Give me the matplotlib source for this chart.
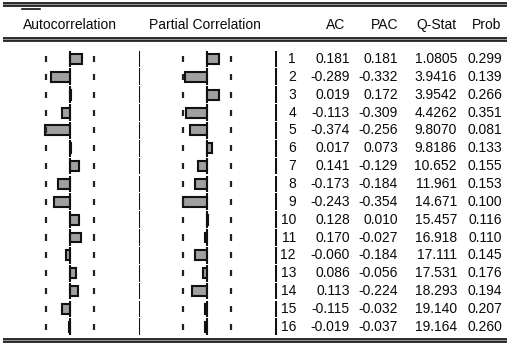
import numpy as np
import matplotlib
matplotlib.use("Agg")
import matplotlib.pyplot as plt
from matplotlib.patches import Rectangle

# ---- data ----
lags = np.arange(1, 17)
ac = [0.181, -0.289, 0.019, -0.113, -0.374, 0.017, 0.141, -0.173, -0.243, 0.128,
      0.170, -0.060, 0.086, 0.113, -0.115, -0.019]
pac = [0.181, -0.332, 0.172, -0.309, -0.256, 0.073, -0.129, -0.184, -0.354, 0.010,
       -0.027, -0.184, -0.056, -0.224, -0.032, -0.037]
ac_txt = ["0.181", "-0.289", "0.019", "-0.113", "-0.374", "0.017", "0.141", "-0.173",
          "-0.243", "0.128", "0.170", "-0.060", "0.086", "0.113", "-0.115", "-0.019"]
pac_txt = ["0.181", "-0.332", "0.172", "-0.309", "-0.256", "0.073", "-0.129", "-0.184",
           "-0.354", "0.010", "-0.027", "-0.184", "-0.056", "-0.224", "-0.032", "-0.037"]
qstat = ["1.0805", "3.9416", "3.9542", "4.4262", "9.8070", "9.8186", "10.652", "11.961",
         "14.671", "15.457", "16.918", "17.111", "17.531", "18.293", "19.140", "19.164"]
prob = ["0.299", "0.139", "0.266", "0.351", "0.081", "0.133", "0.155", "0.153",
        "0.100", "0.116", "0.110", "0.145", "0.176", "0.194", "0.207", "0.260"]
headers = ["Autocorrelation", "Partial Correlation", "AC", "PAC", "Q-Stat", "Prob"]
bound = 0.355

W, H = 510, 346
plt.rcParams['font.family'] = ['Liberation Sans', 'DejaVu Sans']
fig = plt.figure(figsize=(W / 100, H / 100), dpi=100)

FS = 10
TXT = '#0a0a0a'
BAR = '#a0a0a0'
LINE = '#111111'

# background axes in pixel coordinates
bg = fig.add_axes([0, 0, 1, 1])
bg.set_xlim(0, W)
bg.set_ylim(H, 0)
bg.axis('off')

def double_rule(y):
    bg.add_patch(Rectangle((3, y), 504, 3.6, facecolor='#999999', edgecolor='none'))
    bg.plot([3, 507], [y, y], color=LINE, lw=1.2, solid_capstyle='butt')
    bg.plot([3, 507], [y + 3.6, y + 3.6], color=LINE, lw=1.2, solid_capstyle='butt')

double_rule(2.5)
double_rule(37.5)
double_rule(338.5)
bg.plot([22, 40], [9, 9], color=LINE, lw=1.2)

bg.text(23, 25, headers[0], fontsize=FS, color=TXT, ha='left', va='center')
bg.text(149, 25, headers[1], fontsize=FS, color=TXT, ha='left', va='center')
bg.text(336, 25, headers[2], fontsize=FS, color=TXT, ha='center', va='center')
bg.text(385, 25, headers[3], fontsize=FS, color=TXT, ha='center', va='center')
bg.text(436, 25, headers[4], fontsize=FS, color=TXT, ha='center', va='center')
bg.text(487, 25, headers[5], fontsize=FS, color=TXT, ha='center', va='center')

# vertical layout of rows (pixel)
y_first, dy = 59.0, 17.85
top = y_first - 0.5 * dy
bot = y_first + 15.5 * dy

def panel(x0, x1, zero, scale=67.0):
    ax = fig.add_axes([x0 / W, 1 - bot / H, (x1 - x0) / W, (bot - top) / H])
    ax.set_xlim(-(zero - x0) / scale, (x1 - zero) / scale)
    ax.set_ylim(16.5, 0.5)
    ax.axis('off')
    return ax

ax1 = panel(0, 139, 70)
ax2 = panel(139, 275, 207)

zeros = np.zeros(len(lags))
for ax, vals in ((ax1, ac), (ax2, pac)):
    ax.barh(lags, vals, height=0.56, left=0, color=BAR, edgecolor=LINE, linewidth=1.5, zorder=2)
    ax.vlines(zeros, lags - 0.47, lags + 0.47, color=LINE, lw=1.5, zorder=3)
    for b in (-bound, bound):
        ax.vlines(zeros + b, lags - 0.17, lags + 0.17, color='#222222', lw=1.6)

# separator between panels
lo, hi = ax2.get_xlim()
ax2.vlines(zeros + lo + 0.004, lags - 0.47, lags + 0.47, color=LINE, lw=1.5)

# table
axt = fig.add_axes([275 / W, 1 - bot / H, (W - 275) / W, (bot - top) / H])
axt.set_xlim(275, W)
axt.set_ylim(16.5, 0.5)
axt.axis('off')
axt.vlines(zeros + 276, lags - 0.47, lags + 0.47, color=LINE, lw=1.5)
for i, lag in enumerate(lags):
    axt.text(296, lag, str(lag), fontsize=FS, color=TXT, ha='right', va='center')
    axt.text(350, lag, ac_txt[i], fontsize=FS, color=TXT, ha='right', va='center')
    axt.text(398, lag, pac_txt[i], fontsize=FS, color=TXT, ha='right', va='center')
    axt.text(457, lag, qstat[i], fontsize=FS, color=TXT, ha='right', va='center')
    axt.text(502, lag, prob[i], fontsize=FS, color=TXT, ha='right', va='center')

fig.savefig('out.png', dpi=100, facecolor='white')
